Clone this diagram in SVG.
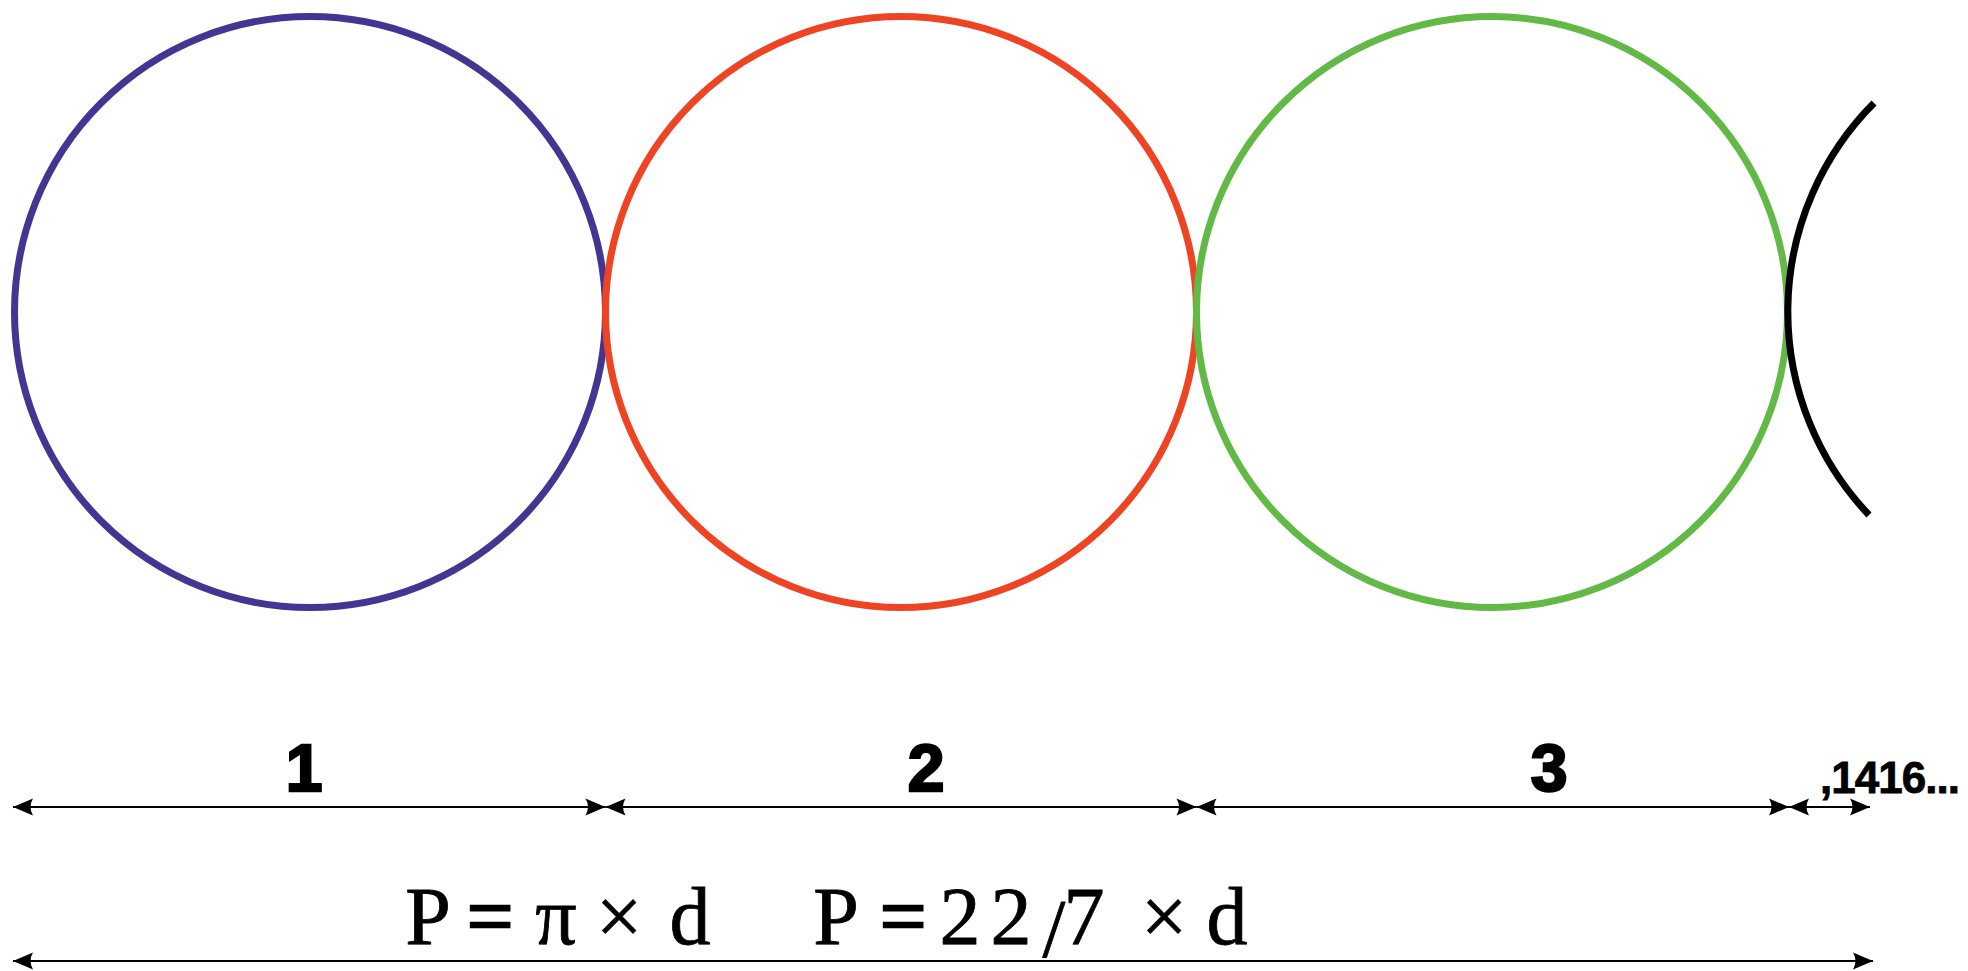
<svg xmlns="http://www.w3.org/2000/svg" width="1968" height="971" viewBox="0 0 1968 971">
  <style>
    .ring { fill: none; stroke-width: 7; }
    .dim { stroke: #000; stroke-width: 2; fill: none; marker-start: url(#arr); marker-end: url(#arr); }
    .num { font-family: "Liberation Sans", Arial, sans-serif; font-weight: bold; fill: #000; stroke: #000; stroke-width: 2.5; stroke-linejoin: miter; text-anchor: middle; }
    .dec { font-family: "Liberation Sans", Arial, sans-serif; font-weight: bold; font-size: 44px; fill: #000; stroke: #000; stroke-width: 0.8; }
    .f { font-family: "Liberation Serif", "Times New Roman", serif; font-size: 82px; fill: #000; stroke: #000; stroke-width: 0.8; text-anchor: middle; }
    .eq { stroke-width: 2.5; }
  </style>
  <defs>
    <marker id="arr" markerUnits="userSpaceOnUse" markerWidth="26" markerHeight="22" refX="0" refY="0" viewBox="-24 -11 26 22" orient="auto-start-reverse">
      <path d="M0,0 L-20,-8.5 Q-15,0 -20,8.5 Z" fill="#000"/>
    </marker>
  </defs>
  <rect width="1968" height="971" fill="#fff"/>
  <g id="circle1"><circle class="ring" cx="310" cy="312" r="295.5" stroke="#443592"/></g>
  <g id="circle2"><circle class="ring" cx="901" cy="312" r="295.5" stroke="#EE4423"/></g>
  <g id="circle3"><circle class="ring" cx="1492" cy="312" r="295.5" stroke="#63B946"/></g>
  <g id="arc4"><path d="M1874,103 A295.5,295.5 0 0 0 1869,515" fill="none" stroke="#000" stroke-width="7"/></g>
  <g id="connectors">
    <line class="dim" x1="13" y1="807" x2="605.5" y2="807"/>
    <line class="dim" x1="605.5" y1="807" x2="1196.5" y2="807"/>
    <line class="dim" x1="1196.5" y1="807" x2="1789" y2="807"/>
    <line class="dim" x1="1789" y1="807" x2="1870" y2="807"/>
    <line class="dim" x1="13" y1="961" x2="1873" y2="961"/>
  </g>
  <g id="labels">
    <text class="num" x="304" y="791" font-size="66">1</text>
    <text class="num" x="926" y="791" font-size="66">2</text>
    <text class="num" x="1549" y="791" font-size="66">3</text>
    <text class="dec" x="1820" y="793" textLength="140" lengthAdjust="spacing">,1416...</text>
  </g>
  <g id="formula1">
    <text class="f" x="428" y="944">P</text>
    <text class="f eq" x="490" y="944">=</text>
    <text class="f" x="556" y="944">π</text>
    <text class="f" x="619" y="944">×</text>
    <text class="f" x="690" y="944">d</text>
  </g>
  <g id="formula2">
    <text class="f" x="836" y="944">P</text>
    <text class="f eq" x="903" y="944">=</text>
    <text class="f" x="960" y="944">2</text>
    <text class="f" x="1011" y="944">2</text>
    <text class="f" x="1054" y="956" font-size="104" stroke-width="2.5">/</text>
    <text class="f" x="1084" y="944">7</text>
    <text class="f" x="1164" y="944">×</text>
    <text class="f" x="1227" y="944">d</text>
  </g>
</svg>
